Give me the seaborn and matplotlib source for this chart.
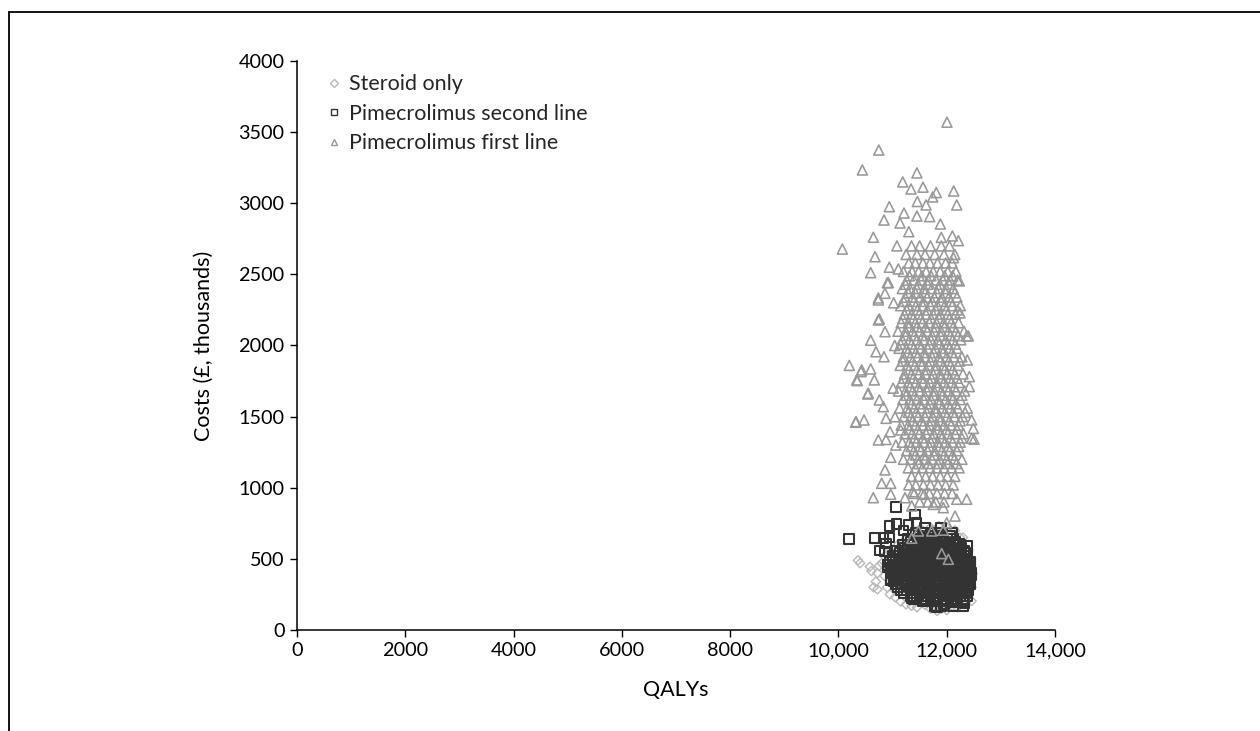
import numpy as np
import pandas as pd
import matplotlib
matplotlib.use("Agg")
import matplotlib.pyplot as plt
from matplotlib.lines import Line2D
import seaborn as sns

#DATA----------------------------------
# outlying points, (QALY, cost) pairs
tri_outliers = [(12005, 3570), (10745, 3374), (10442, 3234), (11450, 3213), (11187, 3150),
                (11341, 3100), (11562, 3113), (11808, 3075), (12129, 3086), (12185, 2988),
                (10940, 2976), (11457, 3012), (11618, 2988), (11741, 3044), (10842, 2882),
                (11211, 2931), (11138, 2861), (11450, 2910), (11686, 2906), (11883, 2854),
                (10072, 2678), (10645, 2761), (12104, 2770), (12215, 2737), (10676, 2624),
                (10596, 2512), (10940, 2550), (11106, 2538), (10903, 2441), (10737, 2334),
                (10755, 2186), (10596, 2037), (10694, 1956), (10201, 1860), (10430, 1828),
                (10596, 1835), (12246, 2229), (12369, 2067), (12380, 1898), (10417, 1816),
                (10349, 1753), (10663, 1758), (10541, 1659), (10319, 1460), (10473, 1476),
                (10737, 1336), (10879, 1339), (10842, 1921), (10860, 2097), (10737, 2179),
                (10737, 2320), (10860, 2367), (10922, 2442), (10755, 1617), (10829, 1570),
                (10879, 1488), (11045, 1499), (10953, 1394), (11150, 1406), (12400, 2067),
                (12418, 1781), (12418, 1711), (12461, 1476), (12492, 1417), (12504, 1341),
                (12233, 2454), (12123, 2617), (10337, 1758), (10552, 1664), (10325, 1465),
                (10966, 1214), (10860, 1125), (10799, 1031), (10966, 1031), (10644, 930),
                (10966, 954), (11230, 930), (11372, 972), (11581, 954), (11753, 883),
                (11937, 860), (12185, 919), (12369, 919), (12154, 801), (12000, 754),
                (11354, 872), (12461, 1348), (11907, 537), (12030, 497), (11354, 645),
                (11722, 696), (11937, 702), (11477, 696), (11060, 1300), (11010, 1700),
                (11040, 2000), (11020, 2300), (11080, 2700), (11300, 2800), (11900, 2760)]

# dense core of the first-line cloud: cost level -> QALYs
tri_rows = [
    (2700, [11350, 11500, 11700, 11900, 12050]),
    (2640, [11250, 11450, 11600, 11780, 11950, 12150]),
    (2580, [11300, 11420, 11560, 11690, 11830, 11980, 12100]),
    (2520, [11200, 11360, 11480, 11620, 11750, 11880, 12020, 12170]),
    (2490, [11310, 11540, 11710, 11960, 12110]),
    (2460, [11260, 11390, 11530, 11660, 11800, 11930, 12060, 12200]),
    (2430, [11240, 11470, 11650, 11870, 12050]),
    (2400, [11180, 11320, 11450, 11590, 11720, 11850, 11990, 12120]),
    (2370, [11290, 11420, 11600, 11820, 11980, 12150]),
    (2340, [11230, 11370, 11510, 11640, 11770, 11910, 12040, 12190]),
    (2310, [11210, 11390, 11570, 11730, 11900, 12080]),
    (2280, [11150, 11300, 11430, 11560, 11700, 11830, 11960, 12100, 12250]),
    (2250, [11260, 11460, 11640, 11800, 11990, 12200]),
    (2220, [11220, 11350, 11490, 11620, 11750, 11880, 12020, 12160]),
    (2190, [11190, 11380, 11520, 11710, 11860, 12050]),
    (2160, [11160, 11290, 11420, 11550, 11680, 11810, 11940, 12080, 12220]),
    (2130, [11300, 11450, 11610, 11790, 11960, 12120]),
    (2100, [11100, 11240, 11370, 11500, 11640, 11770, 11900, 12030, 12170, 12320]),
    (2070, [11240, 11400, 11560, 11730, 11890, 12070, 12210]),
    (2040, [11180, 11310, 11450, 11580, 11710, 11840, 11980, 12110, 12260]),
    (2010, [11150, 11350, 11500, 11680, 11860, 12020, 12160]),
    (1980, [11120, 11260, 11390, 11520, 11650, 11790, 11920, 12050, 12190]),
    (1950, [11280, 11430, 11590, 11760, 11930, 12100]),
    (1920, [11200, 11330, 11460, 11600, 11730, 11860, 12000, 12130, 12280]),
    (1890, [11190, 11370, 11530, 11700, 11880, 12040, 12240]),
    (1860, [11140, 11270, 11410, 11540, 11670, 11800, 11940, 12070, 12210]),
    (1830, [11300, 11450, 11620, 11790, 11960, 12110]),
    (1800, [11220, 11350, 11480, 11610, 11750, 11880, 12010, 12150, 12300]),
    (1770, [11210, 11380, 11550, 11720, 11890, 12060, 12190]),
    (1740, [11160, 11290, 11430, 11560, 11690, 11820, 11950, 12090, 12230]),
    (1710, [11320, 11480, 11650, 11830, 12000, 12140]),
    (1680, [11110, 11240, 11370, 11500, 11640, 11770, 11900, 12030, 12170, 12330]),
    (1650, [11250, 11410, 11590, 11760, 11920, 12090, 12280]),
    (1620, [11190, 11320, 11450, 11580, 11710, 11850, 11980, 12110, 12250]),
    (1590, [11350, 11510, 11690, 11860, 12030, 12170]),
    (1560, [11130, 11270, 11400, 11530, 11660, 11790, 11920, 12060, 12200, 12380]),
    (1530, [11290, 11440, 11630, 11800, 11970, 12120, 12340]),
    (1500, [11210, 11340, 11470, 11600, 11740, 11870, 12000, 12140, 12290]),
    (1470, [11370, 11540, 11710, 11880, 12050, 12250]),
    (1440, [11160, 11290, 11420, 11560, 11690, 11820, 11950, 12080, 12220]),
    (1410, [11310, 11470, 11650, 11830, 12000, 12190]),
    (1380, [11230, 11360, 11490, 11620, 11760, 11890, 12020, 12160, 12310]),
    (1350, [11400, 11560, 11730, 11910, 12070, 12280]),
    (1320, [11180, 11310, 11440, 11580, 11710, 11840, 11970, 12110, 12250]),
    (1290, [11340, 11500, 11680, 11860, 12030, 12220]),
    (1260, [11260, 11390, 11520, 11650, 11780, 11910, 12050, 12190]),
    (1230, [11420, 11590, 11770, 11950, 12110]),
    (1200, [11200, 11340, 11470, 11600, 11730, 11870, 12000, 12140, 12280]),
    (1170, [11480, 11660, 11840, 12020, 12180]),
    (1140, [11290, 11420, 11550, 11690, 11820, 11950, 12090, 12230]),
    (1080, [11350, 11480, 11610, 11740, 11880, 12010, 12150]),
    (1020, [11300, 11430, 11570, 11700, 11840, 11980, 12120]),
    (960, [11400, 11540, 11680, 11820, 11960, 12100]),
    (900, [11500, 11650, 11800, 11950]),
]

sq_outliers = [(10196, 638), (11064, 865), (11415, 813), (10940, 731), (11076, 743),
               (11291, 738), (11445, 754), (10676, 645), (10829, 645), (10940, 649),
               (12092, 684), (12233, 607), (12369, 590), (12430, 469), (12461, 387),
               (12400, 305), (12326, 188), (12154, 199), (11950, 181), (11815, 157),
               (11618, 216), (11354, 227), (10966, 347), (10903, 457), (10860, 551),
               (10879, 609), (10760, 560), (11200, 700), (11600, 720), (11900, 720)]

# dense core of the second-line cloud
sq_rows = [
    (170, [11780, 11900, 12120, 12300]),
    (200, [11560, 11700, 11830, 11960, 12080, 12200, 12330]),
    (220, [11400, 11610, 11800, 12000, 12190, 12300]),
    (240, [11330, 11450, 11540, 11660, 11750, 11850, 11940, 12040, 12150, 12250, 12370]),
    (260, [11210, 11400, 11610, 11800, 11990, 12200, 12340]),
    (280, [11150, 11260, 11370, 11480, 11570, 11680, 11790, 11880, 11990, 12090, 12190, 12290, 12390]),
    (300, [11100, 11310, 11520, 11720, 11930, 12130, 12330]),
    (320, [11060, 11170, 11270, 11360, 11460, 11580, 11670, 11760, 11870, 11970, 12060, 12170, 12270, 12380, 12440]),
    (340, [11020, 11230, 11440, 11640, 11840, 12040, 12240, 12400]),
    (360, [10970, 11080, 11190, 11290, 11400, 11500, 11590, 11700, 11800, 11890, 11990, 12100, 12200, 12310, 12420]),
    (380, [11040, 11250, 11450, 11660, 11860, 12080, 12280, 12410]),
    (400, [10990, 11100, 11200, 11310, 11410, 11520, 11620, 11720, 11820, 11920, 12030, 12130, 12240, 12350, 12450]),
    (420, [10960, 11180, 11390, 11600, 11810, 12010, 12210, 12420]),
    (440, [10920, 11030, 11140, 11240, 11350, 11450, 11560, 11650, 11760, 11860, 11960, 12070, 12170, 12280, 12390]),
    (460, [11000, 11210, 11420, 11630, 11840, 12050, 12260, 12400]),
    (480, [10950, 11060, 11170, 11280, 11380, 11490, 11590, 11690, 11790, 11900, 12000, 12110, 12210, 12320, 12430]),
    (500, [11060, 11270, 11480, 11690, 11890, 12100, 12300]),
    (520, [11010, 11120, 11220, 11330, 11430, 11540, 11640, 11740, 11840, 11940, 12050, 12150, 12260, 12370]),
    (540, [11130, 11340, 11550, 11760, 11960, 12170, 12350]),
    (560, [11080, 11190, 11290, 11400, 11500, 11600, 11710, 11810, 11910, 12010, 12110, 12220, 12330]),
    (580, [11230, 11440, 11650, 11860, 12060, 12270]),
    (600, [11180, 11280, 11390, 11490, 11600, 11700, 11800, 11910, 12010, 12120, 12240]),
    (620, [11330, 11540, 11750, 11950, 12160]),
    (640, [11280, 11400, 11520, 11640, 11760, 11880, 12000, 12120]),
    (660, [11480, 11680, 11900, 12060]),
    (680, [11420, 11560, 11700, 11840]),
]

steroid_pts = [(10360, 490), (10400, 470), (10580, 445), (10610, 415), (10720, 400),
               (10690, 340), (10720, 286), (10800, 470), (10650, 300), (10850, 380),
               (10900, 300), (10950, 250), (11050, 230), (11150, 200), (11250, 180),
               (11350, 170), (11450, 160), (11600, 176), (11700, 150), (11820, 134),
               (11900, 150), (12000, 140), (12100, 170), (12200, 160), (12300, 200),
               (12400, 220), (12460, 204), (12460, 300), (12480, 398), (12450, 480),
               (12400, 560), (12300, 650), (12246, 649), (12150, 700), (12000, 720),
               (11850, 730), (11700, 720), (11550, 700), (11400, 680), (11250, 640),
               (11100, 600), (10950, 560), (10850, 520), (11000, 450), (11200, 400),
               (11400, 350), (11600, 300), (11800, 280), (12000, 300), (12200, 350),
               (11700, 400), (11900, 450), (11500, 500), (11300, 280), (11100, 320),
               (12350, 280), (12420, 440), (11000, 350), (10750, 450), (10900, 420)]

labels = ['Steroid only', 'Pimecrolimus second line', 'Pimecrolimus first line']
xticks = [0, 2000, 4000, 6000, 8000, 10000, 12000, 14000]
xtick_labels = ['0', '2000', '4000', '6000', '8000', '10,000', '12,000', '14,000']
yticks = [0, 500, 1000, 1500, 2000, 2500, 3000, 3500, 4000]

#DATA TRANSFORMATION------------
def to_frame(points, rows, label):
    pts = list(points)
    for y, xs in rows:
        pts += [(x, y) for x in xs]
    df = pd.DataFrame(pts, columns=['qaly', 'cost'])
    df['strategy'] = label
    return df

steroid = to_frame(steroid_pts, [], labels[0])
second = to_frame(sq_outliers, sq_rows, labels[1])
first = to_frame(tri_outliers, tri_rows, labels[2])

#DATA VISUALIZATION-------
sns.set_theme(style='white')
plt.rcParams['font.family'] = ['Lato', 'DejaVu Sans']

fig = plt.figure(figsize=(12.6, 7.31), dpi=100)
ax = fig.add_axes([297/1260, 1-630/731, 758/1260, 569/731])

styles = [(steroid, 'D', '#b8b8b8', 22, 1.0),
          (second, 's', '#333333', 48, 1.5),
          (first, '^', '#999999', 52, 1.15)]
handles = []
for df, mk, col, size, lw in styles:
    sns.scatterplot(data=df, x='qaly', y='cost', marker=mk, s=size, color=col,
                    facecolor='none', edgecolor=col, linewidth=lw, ax=ax, zorder=3,
                    legend=False)
    handles.append(Line2D([], [], linestyle='none', marker=mk, markersize=5 if mk != 'D' else 4,
                          markerfacecolor='none', markeredgecolor=col, markeredgewidth=1.0,
                          label=df['strategy'].iloc[0]))

ax.set_xlim(0, 14000)
ax.set_ylim(0, 4000)
ax.set_xticks(xticks)
ax.set_xticklabels(xtick_labels)
ax.set_yticks(yticks)
ax.tick_params(axis='both', direction='out', length=5, width=1, color='black',
               labelsize=14.3, labelcolor='black', bottom=True, left=True, pad=4)
for s in ['top', 'right']:
    ax.spines[s].set_visible(False)
for s in ['left', 'bottom']:
    ax.spines[s].set_color('black')
    ax.spines[s].set_linewidth(1.1)

ax.set_xlabel('QALYs', fontsize=15.5, color='black', labelpad=15)
ax.set_ylabel('Costs (£, thousands)', fontsize=15.5, color='black', labelpad=18)

ax.legend(handles=handles, loc='upper left', bbox_to_anchor=(0.034, 0.977), frameon=False,
          fontsize=15.5, handletextpad=0.2, labelspacing=0.45,
          handlelength=1.0, borderaxespad=0, borderpad=0)

# outer frame line (top and left edges)
fig.add_artist(Line2D([9/1260, 1], [1-12/731, 1-12/731], transform=fig.transFigure,
                      color='black', linewidth=1.3))
fig.add_artist(Line2D([9/1260, 9/1260], [0, 1-12/731], transform=fig.transFigure,
                      color='black', linewidth=1.3))

fig.savefig('out.png', dpi=100)
